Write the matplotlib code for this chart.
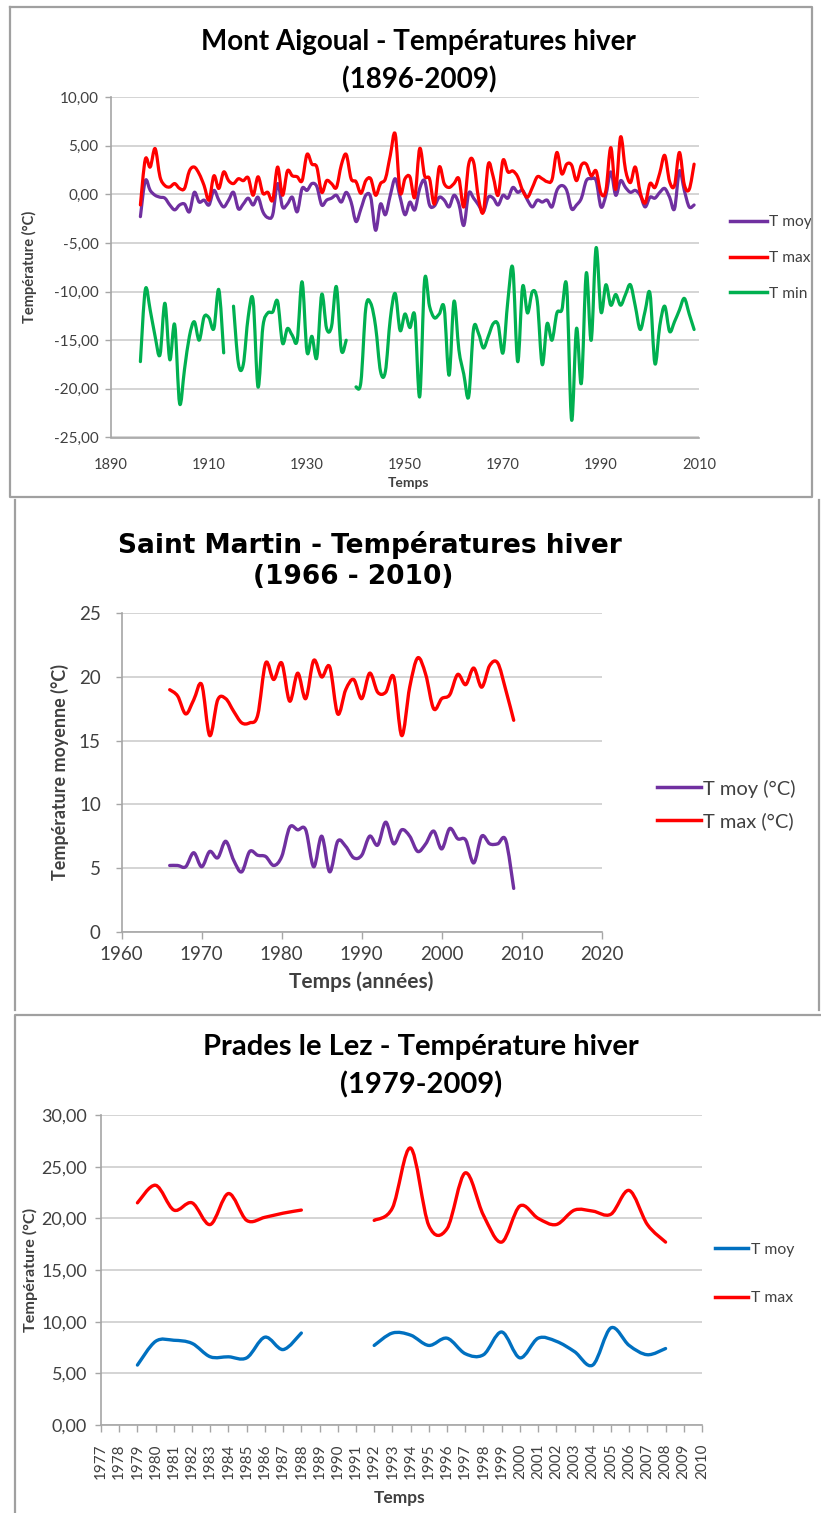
import numpy as np
import matplotlib
matplotlib.use("Agg")
import matplotlib.pyplot as plt
from matplotlib.path import Path
from matplotlib.patches import PathPatch
from matplotlib.lines import Line2D
from matplotlib.ticker import FuncFormatter

# ---------------- data ----------------
# Mont Aigoual, hiver 1896-2009
aig_years = np.arange(1896, 2010)
aig_tmax = [
    -1.1, 3.6, 2.8, 4.7, 1.8, 0.9, 0.75, 1.1, 0.6, 0.6,
    2.4, 2.8, 2.1, 0.9, -0.6, 1.9, 0.6, 2.3, 1.4, 1.1,
    1.6, 1.4, 1.7, -0.1, 1.8, 0.1, 0.2, -0.6, 2.8, -0.1,
    2.4, 1.9, 1.8, 1.4, 4.1, 3.1, 2.8, 0.2, 1.4, 1.1,
    0.7, 3.0, 4.1, 1.6, 1.3, 0.1, 1.4, 1.6, -0.1, 1.1,
    1.6, 4.0, 6.2, 0.2, 1.6, 1.8, -0.3, 4.7, 1.9, 1.6,
    -1.0, 2.8, 1.1, 0.7, 1.1, 1.6, -1.3, 3.1, 3.3, -0.4,
    -1.8, 3.1, 1.8, -0.1, 3.5, 2.3, 2.4, 1.8, 0.4,
    -0.3, 0.7, 1.8, 1.6, 1.3, 1.5, 4.3, 2.1, 3.1, 3.0,
    1.4, 3.0, 3.1, 1.9, 2.4, 0.1, 0.4, 4.8, 0.5, 5.9,
    2.5, 1.2, 2.8, 0.2, -0.9, 1.1, 0.7, 2.2, 4.0, 1.3,
    0.9, 4.3, 1.0, 0.5, 3.1,
]
aig_tmoy = [
    -2.3, 1.4, 0.4, -0.1, -0.3, -0.4, -1.1, -1.6, -1.1, -1.0,
    -1.8, 0.2, -0.8, -0.6, -1.1, 0.4, -0.6, -1.3, -0.6, 0.2,
    -1.5, -1.0, -0.4, -1.1, -0.3, -1.8, -2.4, -2.1, 1.1, -1.3,
    -1.0, -0.3, -1.8, 0.6, 0.4, 1.1, 0.8, -1.1, -0.6, -0.4,
    -0.1, -0.8, 0.2, -0.8, -2.8, -1.5, -0.1, -0.3, -3.7, -1.0,
    -2.1, -0.1, 1.6, -0.3, -2.1, -0.8, -1.6, 0.6, 1.4, -1.1,
    -1.2, -0.3, -0.6, -1.3, -0.1, -1.0, -3.2, 0.1, -0.4, -1.1,
    -1.8, -0.3, -0.4, -1.1, -0.1, -0.4, 0.7, 0.2, 0.4,
    -0.6, -1.3, -0.6, -0.8, -0.6, -1.3, 0.4, 0.9, 0.4, -1.5,
    -1.1, -0.4, 1.4, 1.6, 1.4, -1.3, -0.1, 2.3, -0.1, 1.4,
    0.7, 0.2, 0.4, -0.1, -1.3, -0.3, -0.4, 0.2, 0.6, -0.3,
    -1.5, 2.4, 0.4, -1.3, -1.1,
]
aig_tmin = [
    -17.2, -9.8, -11.9, -14.6, -16.5, -11.2, -17.0, -13.4, -21.5, -18.0,
    -14.6, -13.1, -15.0, -12.6, -12.7, -13.8, -9.8, -16.3, np.nan,
    -11.5, -17.4, -17.5, -12.6, -10.9, -19.8, -13.6, -12.2, -12.1, -11.0,
    -15.3, -13.8, -14.5, -15.0, -9.0, -16.2, -14.6, -16.8, -10.3, -13.8,
    -13.6, -9.5, -16.0, -15.0, np.nan,
    -19.8, -19.3, -11.7, -11.2, -13.6, -18.2, -18.2, -12.8, -10.2, -14.0,
    -12.3, -13.7, -12.5, -20.8, -8.8, -11.5, -12.7, -12.3, -11.7, -18.6,
    -11.0, -16.0, -18.5, -20.8, -13.8, -14.3, -15.8, -14.6, -13.3, -13.4,
    -16.3, -10.9, -7.6,
    -17.2, -9.5, -12.2, -10.0, -11.0, -17.5, -13.3, -15.0, -12.2, -11.9,
    -9.5, -23.2, -13.8, -19.4, -8.1, -15.0, -5.5, -12.1, -9.3, -11.4,
    -10.3, -11.4, -10.3, -9.3, -11.5, -13.9, -12.0, -10.2, -17.4, -13.5,
    -11.5, -14.1, -13.1, -11.9, -10.7, -12.3, -13.9,
]

# Saint Martin, hiver 1966-2009
stm_years = np.arange(1966, 2010)
stm_tmax = [
    19.0, 18.5, 17.1, 18.2, 19.4, 15.4, 18.2, 18.3, 17.3, 16.4,
    16.4, 17.0, 21.1, 19.8, 21.1, 18.1, 20.3, 18.3, 21.3, 20.0,
    20.8, 17.1, 19.0, 19.8, 18.3, 20.3, 18.8, 18.8, 20.0, 15.4,
    19.2, 21.5, 20.2, 17.5, 18.3, 18.6, 20.2, 19.4, 20.7, 19.2,
    20.9, 21.1, 19.0, 16.6,
]
stm_tmoy = [
    5.2, 5.2, 5.1, 6.2, 5.1, 6.3, 5.8, 7.1, 5.6, 4.7,
    6.3, 6.0, 5.9, 5.2, 5.9, 8.2, 8.0, 8.0, 5.1, 7.5,
    4.7, 7.1, 6.7, 5.8, 6.0, 7.5, 6.8, 8.6, 6.9, 8.0,
    7.5, 6.3, 6.9, 7.9, 6.5, 8.1, 7.3, 7.2, 5.4, 7.5,
    6.9, 6.9, 7.2, 3.4,
]

# Prades le Lez, hiver 1979-2008 (1989-1991 manquants)
prl_years = np.arange(1977, 2011)
prl_tmax = [
    np.nan, np.nan,
    21.5, 23.2, 20.8, 21.5, 19.4, 22.4, 19.8, 20.1, 20.5, 20.8,
    np.nan, np.nan, np.nan,
    19.8, 21.0, 26.8, 19.3, 19.0, 24.4, 20.3, 17.7, 21.2, 20.0,
    19.4, 20.8, 20.7, 20.4, 22.7, 19.4, 17.7,
    np.nan, np.nan,
]
prl_tmoy = [
    np.nan, np.nan,
    5.8, 8.1, 8.2, 7.9, 6.6, 6.6, 6.5, 8.5, 7.3, 8.9,
    np.nan, np.nan, np.nan,
    7.7, 8.9, 8.7, 7.7, 8.4, 6.9, 6.8, 9.0, 6.5, 8.4,
    8.1, 7.1, 5.8, 9.4, 7.7, 6.8, 7.4,
    np.nan, np.nan,
]

PURPLE = "#7030A0"
RED = "#FF0000"
GREEN = "#00B050"
BLUE = "#0070C0"
TXT = "#404040"

W, H = 821, 1513
FONT = ["Lato", "DejaVu Sans"]
plt.rcParams["font.family"] = FONT


def fx(px):
    return px / W


def fy(py):
    return 1 - py / H


def smooth_line(ax, x, y, color, lw):
    # Excel-like smoothed line: Catmull-Rom segments drawn as cubic Beziers
    x = np.asarray(x, float)
    y = np.asarray(y, float)
    idx = np.where(~np.isnan(y))[0]
    runs = np.split(idx, np.where(np.diff(idx) > 1)[0] + 1)
    for r in runs:
        if len(r) < 2:
            continue
        p = np.column_stack([x[r], y[r]])
        n = len(p)
        verts = [p[0]]
        codes = [Path.MOVETO]
        for i in range(n - 1):
            p0 = p[max(i - 1, 0)]
            p1 = p[i]
            p2 = p[i + 1]
            p3 = p[min(i + 2, n - 1)]
            verts += [p1 + (p2 - p0) / 6, p2 - (p3 - p1) / 6, p2]
            codes += [Path.CURVE4] * 3
        ax.add_patch(PathPatch(Path(verts, codes), fill=False, edgecolor=color,
                               lw=lw, joinstyle="round", capstyle="round"))


def style_axes(ax):
    for s in ["top", "right"]:
        ax.spines[s].set_visible(False)
    for s in ["left", "bottom"]:
        ax.spines[s].set_color("#A6A6A6")
        ax.spines[s].set_linewidth(1.2)
    ax.grid(axis="y", color="#D4D4D4", lw=1.4)
    ax.set_axisbelow(True)
    ax.tick_params(color="#A6A6A6", labelcolor=TXT, length=4, width=1)


def comma(v, pos):
    return f"{v:.2f}".replace(".", ",")


def label(x, y, s, size, rot=0):
    fig.text(fx(x), fy(y), s, ha="center", va="center", rotation=rot,
             fontsize=size, fontweight="bold", color=TXT)


fig = plt.figure(figsize=(W / 100, H / 100), dpi=100)

# panel frames
frame = dict(color="#A0A0A0", lw=1.6, transform=fig.transFigure)
fig.add_artist(Line2D([fx(10), fx(812), fx(812), fx(10), fx(10)],
                      [fy(7), fy(7), fy(497), fy(497), fy(7)], **frame))
fig.add_artist(Line2D([fx(15), fx(15)], [fy(500), fy(1010)], **frame))
fig.add_artist(Line2D([fx(819), fx(819)], [fy(500), fy(1010)], **frame))
fig.add_artist(Line2D([fx(15), fx(15), fx(821)], [fy(1513), fy(1015), fy(1015)], **frame))

# ---------- panel 1 : Mont Aigoual ----------
ax1 = fig.add_axes([fx(111), fy(437.5), fx(699) - fx(111), fy(97) - fy(437.5)])
style_axes(ax1)
smooth_line(ax1, aig_years, aig_tmin, GREEN, 2.3)
smooth_line(ax1, aig_years, aig_tmoy, PURPLE, 2.3)
smooth_line(ax1, aig_years, aig_tmax, RED, 2.3)
ax1.set_xlim(1890, 2010)
ax1.set_ylim(-25, 10)
ax1.set_xticks(range(1890, 2011, 20))
ax1.set_yticks(range(-25, 11, 5))
ax1.yaxis.set_major_formatter(FuncFormatter(comma))
ax1.tick_params(axis="y", labelsize=11, pad=5)
ax1.tick_params(axis="x", labelsize=10.5, length=0, pad=15)
label(408, 483, "Temps", 10)
label(29, 267, "Température (°C)", 10.5, rot=90)
fig.text(fx(418), fy(42), "Mont Aigoual - Températures hiver", ha="center", va="center",
         fontsize=20, fontweight="bold")
fig.text(fx(419), fy(80), "(1896-2009)", ha="center", va="center", fontsize=20, fontweight="bold")
h1 = [Line2D([], [], color=c, lw=2.5) for c in (PURPLE, RED, GREEN)]
ax1.legend(h1, ["T moy", "T max", "T min"], loc="center left", bbox_to_anchor=(fx(730), fy(258)),
           bbox_transform=fig.transFigure, frameon=False, fontsize=11.2, handlelength=2.4,
           handletextpad=0.1, labelspacing=1.4, borderpad=0, borderaxespad=0, labelcolor=TXT)

# ---------- panel 2 : Saint Martin ----------
ax2 = fig.add_axes([fx(121.7), fy(931.7), fx(601.7) - fx(121.7), fy(613.3) - fy(931.7)])
style_axes(ax2)
smooth_line(ax2, stm_years, stm_tmoy, PURPLE, 2.4)
smooth_line(ax2, stm_years, stm_tmax, RED, 2.4)
ax2.set_xlim(1960, 2020)
ax2.set_ylim(0, 25)
ax2.set_xticks(range(1960, 2021, 10))
ax2.set_yticks(range(0, 26, 5))
ax2.tick_params(axis="y", labelsize=13.5, pad=11)
ax2.tick_params(axis="x", labelsize=13.5, length=5, pad=5)
label(361, 982, "Temps (années)", 15)
label(60, 772, "Température moyenne (°C)", 12.9, rot=90)
fig.text(fx(370), fy(545), "Saint Martin - Températures hiver", ha="center", va="center",
         fontsize=19, fontweight="bold", family="DejaVu Sans")
fig.text(fx(353), fy(577), "(1966 - 2010)", ha="center", va="center",
         fontsize=19, fontweight="bold", family="DejaVu Sans")
h2 = [Line2D([], [], color=c, lw=2.5) for c in (PURPLE, RED)]
ax2.legend(h2, ["T moy (°C)", "T max (°C)"], loc="center left", bbox_to_anchor=(fx(657), fy(805)),
           bbox_transform=fig.transFigure, frameon=False, fontsize=14.5, handlelength=2.2,
           handletextpad=0.1, labelspacing=0.75, borderpad=0, borderaxespad=0, labelcolor=TXT)

# ---------- panel 3 : Prades le Lez ----------
ax3 = fig.add_axes([fx(101), fy(1425), fx(702) - fx(101), fy(1115) - fy(1425)])
style_axes(ax3)
smooth_line(ax3, prl_years, prl_tmoy, BLUE, 2.4)
smooth_line(ax3, prl_years, prl_tmax, RED, 2.4)
ax3.set_xlim(1977, 2010)
ax3.set_ylim(0, 30)
ax3.set_xticks(prl_years)
ax3.set_xticklabels([str(y) for y in prl_years], rotation=90)
ax3.set_yticks(range(0, 31, 5))
ax3.yaxis.set_major_formatter(FuncFormatter(comma))
ax3.tick_params(axis="y", labelsize=13, pad=6)
ax3.tick_params(axis="x", labelsize=11, length=5, pad=8)
label(400, 1498, "Temps", 12.5)
label(30, 1270, "Température (°C)", 11.6, rot=90)
fig.text(fx(421), fy(1047), "Prades le Lez - Température hiver", ha="center", va="center",
         fontsize=21, fontweight="bold")
fig.text(fx(421), fy(1085), "(1979-2009)", ha="center", va="center", fontsize=21, fontweight="bold")
h3 = [Line2D([], [], color=c, lw=2.5) for c in (BLUE, RED)]
ax3.legend(h3, ["T moy", "T max"], loc="center left", bbox_to_anchor=(fx(715), fy(1274)),
           bbox_transform=fig.transFigure, frameon=False, fontsize=11.3, handlelength=2.1,
           handletextpad=0.2, labelspacing=2.2, borderpad=0, borderaxespad=0, labelcolor=TXT)

fig.savefig("out.png", dpi=100)
